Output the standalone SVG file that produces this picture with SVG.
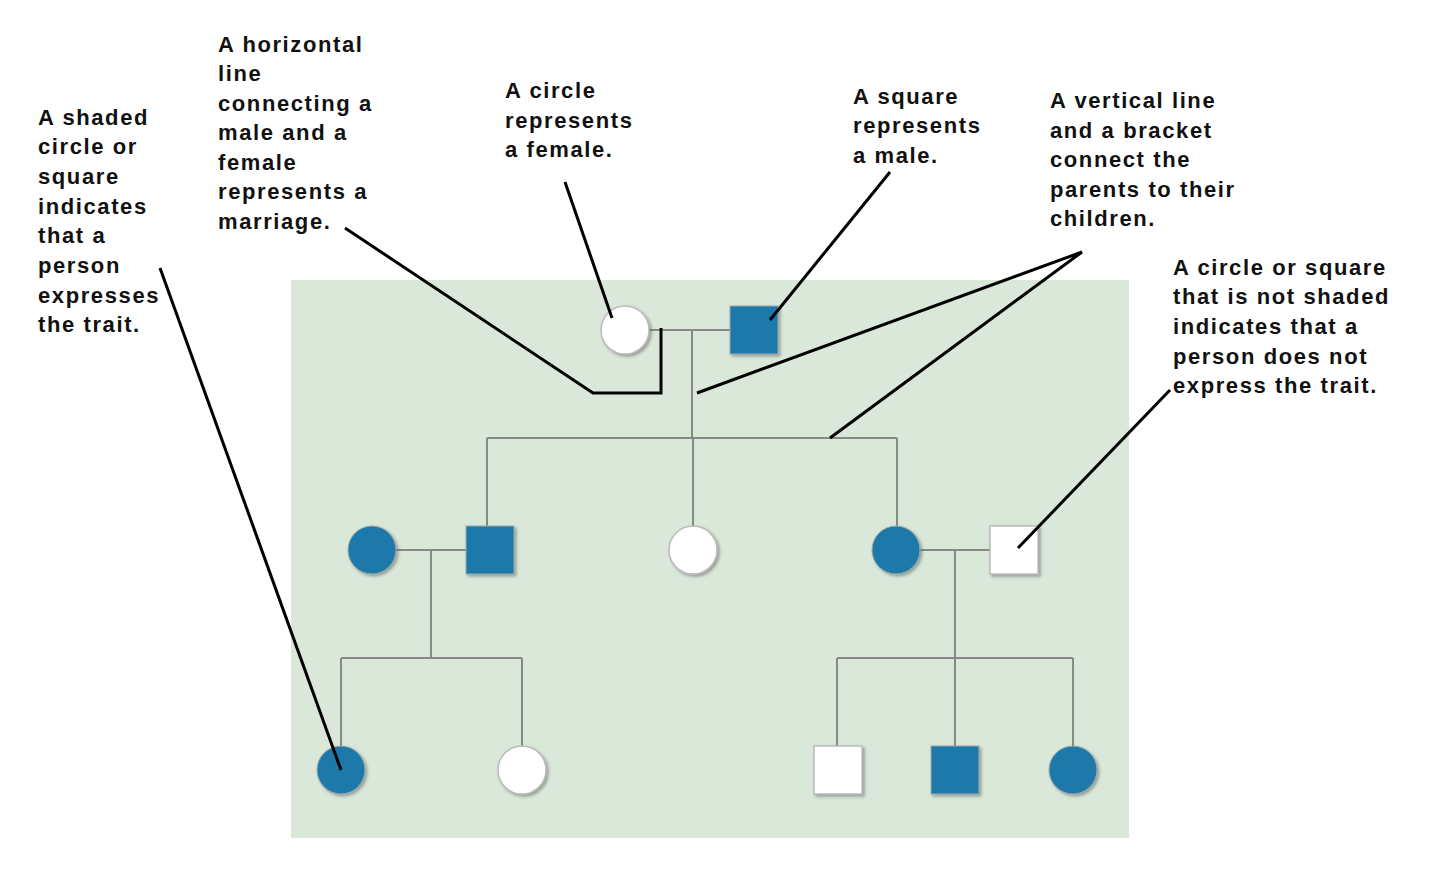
<svg xmlns="http://www.w3.org/2000/svg" width="1440" height="878" viewBox="0 0 1440 878">
<style>
.t{font-family:"Liberation Sans",Arial,sans-serif;font-weight:bold;font-size:22px;letter-spacing:1.6px;fill:#111}
.b{fill:#1f79a9;stroke:#9aa;stroke-width:1}
.w{fill:#fff;stroke:#bbb;stroke-width:1.5}
.pl{stroke:#888;stroke-width:2;fill:none}
.cl{stroke:#000;stroke-width:3;fill:none}
</style>
<defs><filter id="s"><feDropShadow dx="2" dy="2" stdDeviation="1.5" flood-color="#555" flood-opacity="0.5"/></filter></defs>
<rect x="291" y="280" width="838" height="558" fill="#d9e8d9"/>
<g id="pedigree-lines">
<path class="pl" d="M649 330H730M692 330V438M487 438H897M487 438V526M693 438V526M897 438V526"/>
<path class="pl" d="M396 550H466M431 550V658M341 658H522M341 658V746M522 658V746"/>
<path class="pl" d="M920 550H990M955 550V746M837 658H1073M837 658V746M1073 658V746"/>
</g>
<g filter="url(#s)">
<g id="n1"><circle class="w" cx="625" cy="330" r="24"/></g>
<g id="n2"><rect class="b" x="730" y="306" width="48" height="48"/></g>
<g id="n3"><circle class="b" cx="372" cy="550" r="24"/></g>
<g id="n4"><rect class="b" x="466" y="526" width="48" height="48"/></g>
<g id="n5"><circle class="w" cx="693" cy="550" r="24"/></g>
<g id="n6"><circle class="b" cx="896" cy="550" r="24"/></g>
<g id="n7"><rect class="w" x="990" y="526" width="48" height="48"/></g>
<g id="n8"><circle class="b" cx="341" cy="770" r="24"/></g>
<g id="n9"><circle class="w" cx="522" cy="770" r="24"/></g>
<g id="n10"><rect class="w" x="814" y="746" width="48" height="48"/></g>
<g id="n11"><rect class="b" x="931" y="746" width="48" height="48"/></g>
<g id="n12"><circle class="b" cx="1073" cy="770" r="24"/></g>
</g>
<g id="connectors">
<path class="cl" d="M160 268L341 770"/>
<path class="cl" d="M345 228L593 393H661V328"/>
<path class="cl" d="M565 182L612 318"/>
<path class="cl" d="M890 172L770 320"/>
<path class="cl" d="M697 393L1082 252L830 438"/>
<path class="cl" d="M1170 390L1018 548"/>
</g>
<g id="labels" class="t">
<text x="38" y="125">A shaded</text><text x="38" y="154">circle or</text><text x="38" y="184">square</text><text x="38" y="214">indicates</text><text x="38" y="243">that a</text><text x="38" y="273">person</text><text x="38" y="303">expresses</text><text x="38" y="332">the trait.</text>
<text x="218" y="52">A horizontal</text><text x="218" y="81">line</text><text x="218" y="111">connecting a</text><text x="218" y="140">male and a</text><text x="218" y="170">female</text><text x="218" y="199">represents a</text><text x="218" y="229">marriage.</text>
<text x="505" y="98">A circle</text><text x="505" y="128">represents</text><text x="505" y="157">a female.</text>
<text x="853" y="104">A square</text><text x="853" y="133">represents</text><text x="853" y="163">a male.</text>
<text x="1050" y="108">A vertical line</text><text x="1050" y="138">and a bracket</text><text x="1050" y="167">connect the</text><text x="1050" y="197">parents to their</text><text x="1050" y="226">children.</text>
<text x="1173" y="275">A circle or square</text><text x="1173" y="304">that is not shaded</text><text x="1173" y="334">indicates that a</text><text x="1173" y="364">person does not</text><text x="1173" y="393">express the trait.</text>
</g>
</svg>
